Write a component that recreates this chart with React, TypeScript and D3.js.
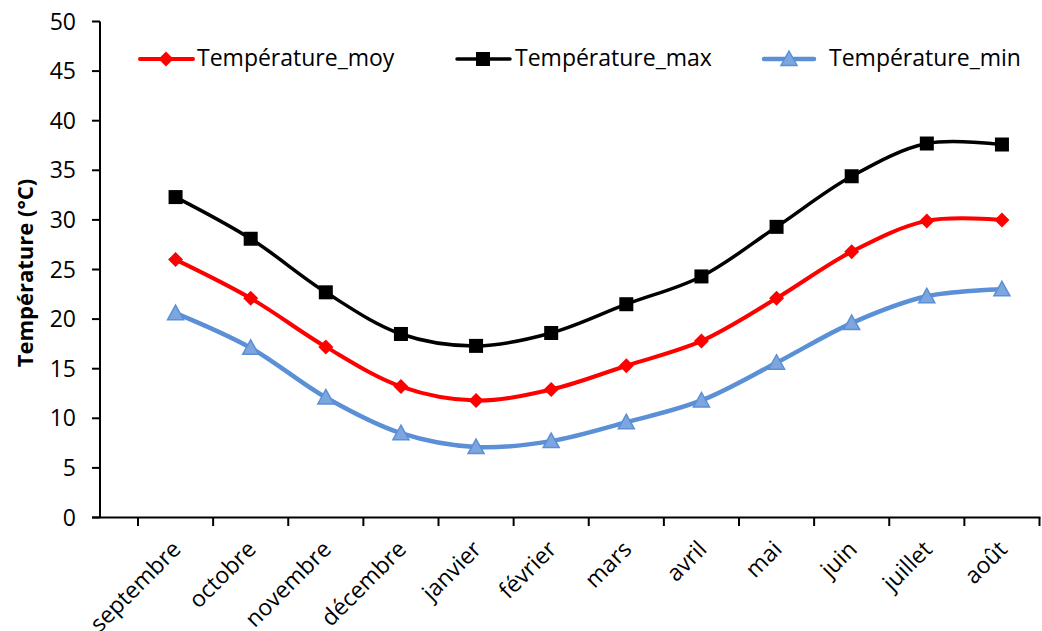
import React from "react";
import * as d3 from "d3";

const months = ["septembre", "octobre", "novembre", "décembre", "janvier", "février", "mars", "avril", "mai", "juin", "juillet", "août"];
const tMoy = [26.0, 22.1, 17.2, 13.2, 11.8, 12.9, 15.3, 17.8, 22.1, 26.8, 29.9, 30.0];
const tMax = [32.3, 28.1, 22.7, 18.5, 17.3, 18.6, 21.5, 24.3, 29.3, 34.4, 37.7, 37.6];
const tMin = [20.6, 17.1, 12.1, 8.5, 7.1, 7.7, 9.6, 11.8, 15.6, 19.6, 22.3, 23.0];
const yTicks = [0, 5, 10, 15, 20, 25, 30, 35, 40, 45, 50];
const seriesNames = ["Température_moy", "Température_max", "Température_min"];

const FONT = "'Open Sans', 'Noto Sans', sans-serif";

export default function App() {
  const W = 1042, H = 631;
  const x = d3.scaleBand<string>().domain(months).range([138, 1039.5]);
  const y = d3.scaleLinear().domain([0, 50]).range([517.5, 21.5]);
  const line = d3.line<number>()
    .x((_, i) => (x(months[i]) as number) + x.bandwidth() / 2)
    .y((d) => y(d))
    .curve(d3.curveCatmullRom.alpha(0.5));
  const cx = (i: number) => (x(months[i]) as number) + x.bandwidth() / 2;

  const diamond = (px: number, py: number, r = 7.5) => `M${px},${py - r}L${px + r},${py}L${px},${py + r}L${px - r},${py}Z`;
  const tri = (px: number, py: number) => `M${px},${py - 8}L${px + 8},${py + 6.5}L${px - 8},${py + 6.5}Z`;

  const blue = "#5B8FD6";
  const blueFill = "#7EA6DE";

  const xTickPositions = months.map((m) => x(m) as number).concat([1039.5]);

  return (
    <svg width={W} height={H} style={{ position: "absolute", left: 0, top: 0, background: "#fff" }}>
      <rect x={0} y={0} width={W} height={H} fill="#fff" />
      {/* axes */}
      <line x1={100} y1={21.5} x2={100} y2={518} stroke="#000" strokeWidth={2} />
      <line x1={92} y1={517.5} x2={1040.5} y2={517.5} stroke="#000" strokeWidth={2} />
      {yTicks.map((t) => (
        <g key={t}>
          <line x1={92} x2={100} y1={y(t)} y2={y(t)} stroke="#000" strokeWidth={2} />
          <text x={76} y={y(t)} dy="0.35em" textAnchor="end" fontFamily={FONT} fontSize={23} fill="#000">{t}</text>
        </g>
      ))}
      {xTickPositions.map((p, i) => (
        <line key={i} x1={p} x2={p} y1={517.5} y2={526} stroke="#000" strokeWidth={2} />
      ))}
      {months.map((m, i) => (
        <text key={m} transform={`translate(${cx(i) + 1},${545}) rotate(-45)`} textAnchor="end" dy="0.35em"
          fontFamily={FONT} fontSize={23} fill="#000">{m}</text>
      ))}
      <text transform={`translate(33,273) rotate(-90)`} textAnchor="middle" fontFamily={FONT} fontSize={22} fontWeight="bold" fill="#000">Température (°C)</text>

      {/* lines */}
      <path d={line(tMax) || ""} fill="none" stroke="#000" strokeWidth={3.5} />
      <path d={line(tMoy) || ""} fill="none" stroke="#FF0000" strokeWidth={4} />
      <path d={line(tMin) || ""} fill="none" stroke={blue} strokeWidth={4.5} />
      {tMax.map((v, i) => (
        <rect key={"mx" + i} x={cx(i) - 7} y={y(v) - 7} width={14} height={14} fill="#000" />
      ))}
      {tMoy.map((v, i) => (
        <path key={"mo" + i} d={diamond(cx(i), y(v))} fill="#FF0000" />
      ))}
      {tMin.map((v, i) => (
        <path key={"mn" + i} d={tri(cx(i), y(v))} fill={blueFill} stroke={blue} strokeWidth={1.5} />
      ))}

      {/* legend */}
      <g>
        <line x1={140} x2={193} y1={59} y2={59} stroke="#FF0000" strokeWidth={4} strokeLinecap="round" />
        <path d={diamond(166, 59)} fill="#FF0000" />
        <text x={197} y={58} dy="0.35em" fontFamily={FONT} fontSize={23} fill="#000">{seriesNames[0]}</text>

        <line x1={457} x2={510} y1={59} y2={59} stroke="#000" strokeWidth={3.5} strokeLinecap="round" />
        <rect x={476} y={52} width={14} height={14} fill="#000" />
        <text x={515} y={58} dy="0.35em" fontFamily={FONT} fontSize={23} fill="#000">{seriesNames[1]}</text>

        <line x1={764} x2={814} y1={59} y2={59} stroke={blue} strokeWidth={4.5} strokeLinecap="round" />
        <path d={tri(789, 59)} fill={blueFill} stroke={blue} strokeWidth={1.5} />
        <text x={829} y={58} dy="0.35em" fontFamily={FONT} fontSize={23} fill="#000">{seriesNames[2]}</text>
      </g>
    </svg>
  );
}
